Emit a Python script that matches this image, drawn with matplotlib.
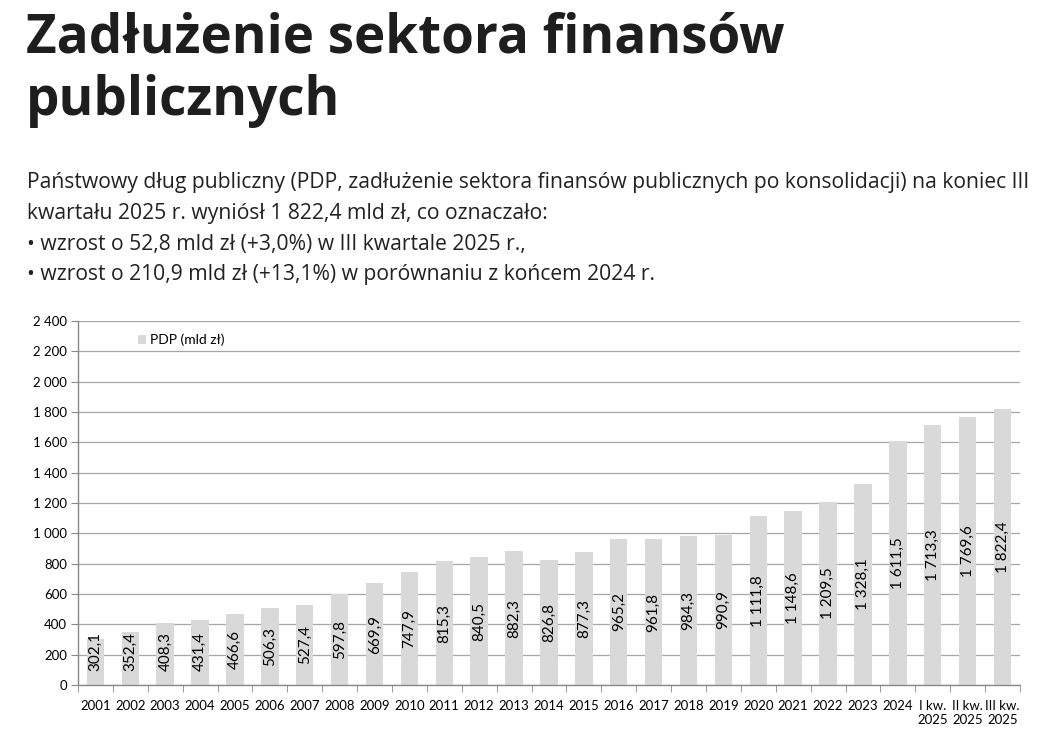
import matplotlib
matplotlib.use("Agg")
import matplotlib.pyplot as plt
import numpy as np

# Dane: państwowy dług publiczny (mld zł)
labels = [str(y) for y in range(2001, 2025)] + ["I kw.\n2025", "II kw.\n2025", "III kw.\n2025"]
pdp = [302.1, 352.4, 408.3, 431.4, 466.6, 506.3, 527.4, 597.8, 669.9, 747.9,
       815.3, 840.5, 882.3, 826.8, 877.3, 965.2, 961.8, 984.3, 990.9, 1111.8,
       1148.6, 1209.5, 1328.1, 1611.5, 1713.3, 1769.6, 1822.4]
yticks = list(range(0, 2401, 200))

title = ["Zadłużenie sektora finansów", "publicznych"]
lead = ["Państwowy dług publiczny (PDP, zadłużenie sektora finansów publicznych po konsolidacji) na koniec III",
        "kwartału 2025 r. wyniósł 1 822,4 mld zł, co oznaczało:",
        "• wzrost o 52,8 mld zł (+3,0%) w III kwartale 2025 r.,",
        "• wzrost o 210,9 mld zł (+13,1%) w porównaniu z końcem 2024 r."]


def pl_num(v, dec=1):
    s = f"{v:,.{dec}f}"
    return s.replace(",", " ").replace(".", ",")


bar_col = "#d9d9d9"
grid_col = "#a6a6a6"
txt_col = "#1e1e1e"

fig = plt.figure(figsize=(10.55, 7.43), dpi=100)
for i, line in enumerate(title):
    fig.text(0.025, 0.930 - i * 0.0848, line, fontsize=38.2, fontweight="bold",
             family="Open Sans", color=txt_col, va="baseline", ha="left")
for i, line in enumerate(lead):
    fig.text(0.026, 0.755 - i * 0.0417, line, fontsize=15.2, family="Open Sans",
             color="#222222", va="center", ha="left")

ax = fig.add_axes([0.0739, 0.0781, 0.8929, 0.4899])
x = np.arange(len(pdp))
ax.bar(x, pdp, width=0.5, color=bar_col, zorder=2, label="PDP (mld zł)")

for xi, v in zip(x, pdp):
    ax.text(xi, max(v / 2, 220), pl_num(v), rotation=90, ha="center", va="center",
            fontsize=11, family="Lato", color="#000000", zorder=3)

ax.set_xlim(-0.5, len(pdp) - 0.5)
ax.set_ylim(0, 2400)
ax.set_yticks(yticks)
ax.set_yticklabels([pl_num(t, 0) for t in yticks], family="Lato", fontsize=9.5)
ax.set_xticks(x)
ax.set_xticklabels(labels, family="Lato", fontsize=9.5, linespacing=1.15)
ax.set_xticks(np.arange(-0.5, len(pdp), 1), minor=True)
ax.tick_params(axis="x", which="major", length=0, pad=11)
ax.tick_params(axis="x", which="minor", length=5, color="#888888", direction="out")
ax.tick_params(axis="y", length=5, color="#888888", pad=3)
ax.yaxis.grid(True, color=grid_col, linewidth=0.9, zorder=0)
ax.set_axisbelow(True)
for s in ["top", "right"]:
    ax.spines[s].set_visible(False)
for s in ["left", "bottom"]:
    ax.spines[s].set_color("#888888")
    ax.spines[s].set_linewidth(1.0)

leg = ax.legend(loc="upper left", bbox_to_anchor=(0.05, 1.0), frameon=False,
                prop={"family": "Lato", "size": 10}, handlelength=0.6, handleheight=0.6,
                handletextpad=0.3)

fig.savefig("out.png", dpi=100)
